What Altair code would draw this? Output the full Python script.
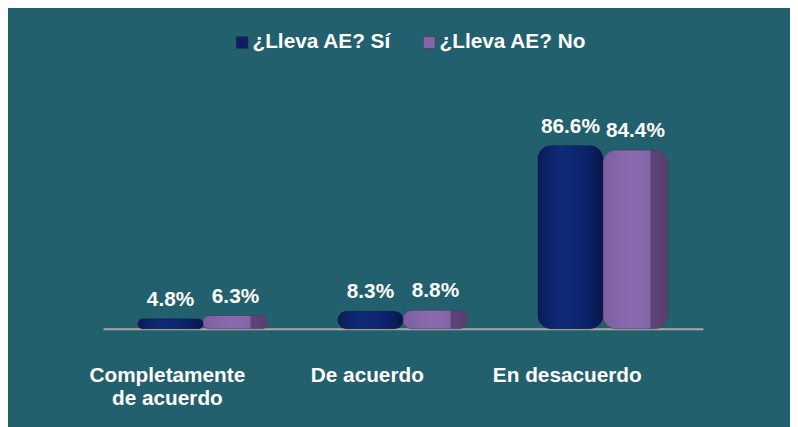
import altair as alt
import pandas as pd

categories = ["Completamente de acuerdo", "De acuerdo", "En desacuerdo"]
series = ["¿Lleva AE? Sí", "¿Lleva AE? No"]
si_values = [4.8, 8.3, 86.6]
no_values = [6.3, 8.8, 84.4]
colors = ["#0B1F66", "#8466A9"]

rows = []
for c, a, b in zip(categories, si_values, no_values):
    rows.append({"cat": c, "serie": series[0], "value": a})
    rows.append({"cat": c, "serie": series[1], "value": b})
df = pd.DataFrame(rows)

FONT = "Liberation Sans"

x_enc = alt.X(
    "cat:N",
    sort=categories,
    scale=alt.Scale(paddingInner=0.35, paddingOuter=0.175),
    axis=alt.Axis(
        title=None,
        labelAngle=0,
        labelExpr="datum.label == 'Completamente de acuerdo' ? ['Completamente', 'de acuerdo'] : datum.label",
        labelFont=FONT,
        labelFontSize=21,
        labelFontWeight="bold",
        labelColor="white",
        labelLineHeight=23,
        labelPadding=36,
        labelOffset=-36,
        ticks=False,
        domainColor="#A8A8A8",
        domainWidth=2,
    ),
)
xo_enc = alt.XOffset("serie:N", sort=series, scale=alt.Scale(domain=series, paddingInner=0))
y_enc = alt.Y("value:Q", scale=alt.Scale(domain=[0, 100]), axis=None)

base = alt.Chart(df).encode(x=x_enc, xOffset=xo_enc, y=y_enc)

bars = base.mark_bar(cornerRadius=14).encode(
    color=alt.Color(
        "serie:N",
        sort=series,
        scale=alt.Scale(domain=series, range=colors),
        legend=alt.Legend(
            title=None,
            orient="none",
            direction="horizontal",
            legendX=130,
            legendY=-86,
            symbolType="square",
            symbolSize=144,
            symbolStrokeColor="#333333",
            symbolStrokeWidth=0.5,
            symbolOpacity=1,
            labelFont=FONT,
            labelFontSize=21,
            labelFontWeight="bold",
            labelColor="white",
            labelOffset=0,
            columnPadding=27,
        ),
    )
)

navy_grad = alt.Gradient(
    gradient="linear", x1=0, x2=1, y1=0, y2=0,
    stops=[
        alt.GradientStop(color="#0A1B58", offset=0),
        alt.GradientStop(color="#0F2A78", offset=0.35),
        alt.GradientStop(color="#0C226A", offset=0.75),
        alt.GradientStop(color="#071648", offset=1),
    ],
)
purple_grad = alt.Gradient(
    gradient="linear", x1=0, x2=1, y1=0, y2=0,
    stops=[
        alt.GradientStop(color="#7C5FA1", offset=0),
        alt.GradientStop(color="#8A6BAF", offset=0.45),
        alt.GradientStop(color="#8466A9", offset=0.72),
        alt.GradientStop(color="#5E4579", offset=0.74),
        alt.GradientStop(color="#583F70", offset=1),
    ],
)

shade_si = base.transform_filter(alt.datum.serie == series[0]).mark_bar(
    cornerRadius=14, fill=navy_grad, stroke="#061236", strokeOpacity=0.4, strokeWidth=0.8
)
shade_no = base.transform_filter(alt.datum.serie == series[1]).mark_bar(
    cornerRadius=14, fill=purple_grad, stroke="#3E2B55", strokeOpacity=0.4, strokeWidth=0.8
)

labels = base.transform_calculate(
    txt="format(datum.value, '.1f') + '%'"
).mark_text(
    dy=-9, baseline="bottom", font=FONT, fontSize=21, fontWeight="bold", color="white"
).encode(text="txt:N")

chart = (
    alt.layer(bars, shade_si, shade_no, labels)
    .properties(
        width=606,
        height=214,
        background="#23606E",
        padding={"left": 96, "top": 108, "right": 88, "bottom": 97},
        autosize=alt.AutoSizeParams(type="none"),
    )
    .configure_view(stroke=None)
)

chart.save("out.html", embed_options={"renderer": "svg", "actions": False})
